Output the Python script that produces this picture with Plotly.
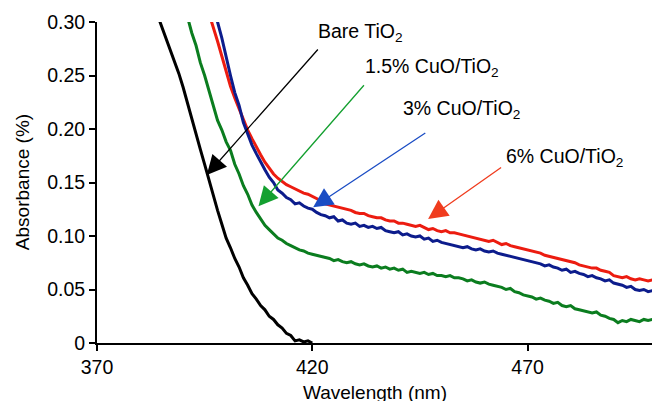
import plotly.graph_objects as go

# Wavelength grids (nm), 1 nm steps
wl_bare = list(range(384, 421))
wl_15 = list(range(391, 501))
wl_3 = list(range(397, 501))
wl_6 = list(range(396, 501))

abs_bare = [0.307, 0.296, 0.286, 0.274, 0.263, 0.252, 0.239, 0.224, 0.211, 0.196,
            0.181, 0.167, 0.152, 0.138, 0.124, 0.111, 0.098, 0.089, 0.079, 0.071,
            0.061, 0.054, 0.046, 0.041, 0.035, 0.031, 0.025, 0.022, 0.017, 0.014,
            0.009, 0.007, 0.002, 0.003, 0.001, 0.002, 0.000]

abs_15 = [0.305, 0.290, 0.278, 0.262, 0.250, 0.236, 0.224, 0.208, 0.199, 0.188,
          0.180, 0.167, 0.158, 0.147, 0.139, 0.129, 0.122, 0.116, 0.110, 0.106,
          0.102, 0.098, 0.096, 0.093, 0.091, 0.089, 0.087, 0.086, 0.084, 0.083,
          0.082, 0.081, 0.080, 0.079, 0.077, 0.078, 0.076, 0.075, 0.076, 0.074,
          0.073, 0.074, 0.072, 0.071, 0.072, 0.070, 0.071, 0.069, 0.070, 0.068,
          0.069, 0.066, 0.067, 0.066, 0.065, 0.066, 0.064, 0.065, 0.063, 0.063,
          0.062, 0.063, 0.061, 0.061, 0.060, 0.058, 0.059, 0.057, 0.056, 0.057,
          0.055, 0.054, 0.053, 0.052, 0.050, 0.051, 0.048, 0.047, 0.045, 0.044,
          0.043, 0.041, 0.042, 0.040, 0.039, 0.037, 0.038, 0.035, 0.034, 0.035,
          0.032, 0.031, 0.030, 0.029, 0.028, 0.029, 0.026, 0.025, 0.023, 0.022,
          0.019, 0.021, 0.020, 0.022, 0.021, 0.020, 0.022, 0.021, 0.022, 0.021]

abs_3 = [0.312, 0.300, 0.285, 0.266, 0.250, 0.234, 0.222, 0.206, 0.196, 0.185,
         0.177, 0.169, 0.162, 0.155, 0.150, 0.143, 0.140, 0.136, 0.134, 0.130,
         0.131, 0.128, 0.126, 0.125, 0.122, 0.120, 0.119, 0.117, 0.118, 0.114,
         0.115, 0.112, 0.111, 0.112, 0.109, 0.110, 0.108, 0.109, 0.107, 0.108,
         0.105, 0.104, 0.103, 0.104, 0.101, 0.102, 0.100, 0.099, 0.100, 0.097,
         0.098, 0.095, 0.096, 0.094, 0.093, 0.092, 0.091, 0.090, 0.089, 0.090,
         0.088, 0.087, 0.088, 0.086, 0.085, 0.086, 0.084, 0.083, 0.082, 0.081,
         0.080, 0.079, 0.078, 0.077, 0.076, 0.075, 0.074, 0.072, 0.073, 0.071,
         0.070, 0.068, 0.069, 0.066, 0.067, 0.065, 0.064, 0.062, 0.063, 0.061,
         0.060, 0.058, 0.059, 0.056, 0.055, 0.054, 0.052, 0.053, 0.050, 0.049,
         0.050, 0.048, 0.049, 0.048]

abs_6 = [0.308, 0.296, 0.282, 0.268, 0.253, 0.240, 0.229, 0.219, 0.208, 0.199,
         0.191, 0.183, 0.176, 0.169, 0.163, 0.158, 0.154, 0.151, 0.148, 0.146,
         0.144, 0.142, 0.140, 0.139, 0.137, 0.135, 0.133, 0.130, 0.129, 0.128,
         0.127, 0.126, 0.125, 0.124, 0.122, 0.121, 0.121, 0.119, 0.118, 0.117,
         0.117, 0.115, 0.114, 0.114, 0.112, 0.112, 0.111, 0.110, 0.109, 0.110,
         0.108, 0.106, 0.107, 0.105, 0.104, 0.105, 0.103, 0.103, 0.102, 0.101,
         0.100, 0.099, 0.098, 0.097, 0.096, 0.095, 0.096, 0.094, 0.092, 0.093,
         0.091, 0.090, 0.089, 0.088, 0.087, 0.086, 0.085, 0.084, 0.082, 0.081,
         0.080, 0.079, 0.078, 0.077, 0.076, 0.075, 0.073, 0.072, 0.071, 0.070,
         0.070, 0.068, 0.067, 0.066, 0.063, 0.062, 0.061, 0.062, 0.060, 0.059,
         0.060, 0.059, 0.058, 0.059, 0.058]

x_ticks = [370, 420, 470]
y_ticks = [0, 0.05, 0.10, 0.15, 0.20, 0.25, 0.30]
y_tick_text = ["0", "0.05", "0.10", "0.15", "0.20", "0.25", "0.30"]

labels = ["Bare TiO<sub>2</sub>", "1.5% CuO/TiO<sub>2</sub>",
          "3% CuO/TiO<sub>2</sub>", "6% CuO/TiO<sub>2</sub>"]

FONT = "Liberation Sans, Arial, Helvetica, sans-serif"

fig = go.Figure()
series = [
    (wl_bare, abs_bare, "#000000"),
    (wl_15, abs_15, "#0b7d1f"),
    (wl_6, abs_6, "#ec1c10"),
    (wl_3, abs_3, "#0c1c8c"),
]
for wl, ab, col in series:
    fig.add_trace(go.Scatter(x=wl, y=ab, mode="lines",
                             line=dict(color=col, width=3),
                             showlegend=False, hoverinfo="skip"))

# label positions (data coords) and arrows (tail -> head)
label_pos = [(420.8, 0.290), (431.7, 0.2573), (440.5, 0.2183), (464.5, 0.1736)]
arrow_tail = [(421.6, 0.2757), (432.3, 0.2423), (446.6, 0.1972), (464.2, 0.165)]
arrow_head = [(395.5, 0.157), (407.5, 0.1277), (420.2, 0.1269), (446.9, 0.1159)]
arrow_col = ["#000000", "#14a030", "#1a4cc4", "#f03c1e"]

annotations = []
for (lx, ly), txt in zip(label_pos, labels):
    annotations.append(dict(x=lx, y=ly, xref="x", yref="y", text=txt,
                            showarrow=False, xanchor="left", yanchor="middle",
                            font=dict(size=19.5, color="black", family=FONT)))
for (tx, ty), (hx, hy), col in zip(arrow_tail, arrow_head, arrow_col):
    annotations.append(dict(x=hx, y=hy, ax=tx, ay=ty, xref="x", yref="y",
                            axref="x", ayref="y", text="", showarrow=True,
                            arrowhead=2, arrowsize=3.0, arrowwidth=1.3,
                            arrowcolor=col, standoff=0))

annotations.append(dict(x=0.5, y=-0.155, xref="paper", yref="paper",
                        text="Wavelength (nm)", showarrow=False,
                        xanchor="center", yanchor="middle",
                        font=dict(size=19, color="black", family=FONT)))
annotations.append(dict(x=-0.134, y=0.5, xref="paper", yref="paper",
                        text="Absorbance (%)", showarrow=False, textangle=-90,
                        xanchor="center", yanchor="middle",
                        font=dict(size=19, color="black", family=FONT)))

fig.update_layout(
    width=652, height=401,
    margin=dict(l=97, r=0, t=22, b=57.7),
    paper_bgcolor="white", plot_bgcolor="white",
    font=dict(family=FONT, size=19.5, color="black"),
    annotations=annotations,
    xaxis=dict(range=[370, 498.9], tickvals=x_ticks, ticks="outside",
               ticklen=6, tickwidth=2, tickcolor="black",
               showline=True, linecolor="black", linewidth=2,
               showgrid=False, zeroline=False, automargin=False,
               tickfont=dict(size=19.5, family=FONT, color="black")),
    yaxis=dict(range=[0, 0.30], tickvals=y_ticks, ticktext=y_tick_text,
               ticks="outside", ticklen=6, tickwidth=2, tickcolor="black",
               showline=True, linecolor="black", linewidth=2,
               showgrid=False, zeroline=False, automargin=False,
               tickfont=dict(size=19.5, family=FONT, color="black")),
)

fig.write_html(
    "out.html",
    config={"displayModeBar": False},
    post_script="document.body.style.margin='0';document.body.style.overflow='hidden';",
)
